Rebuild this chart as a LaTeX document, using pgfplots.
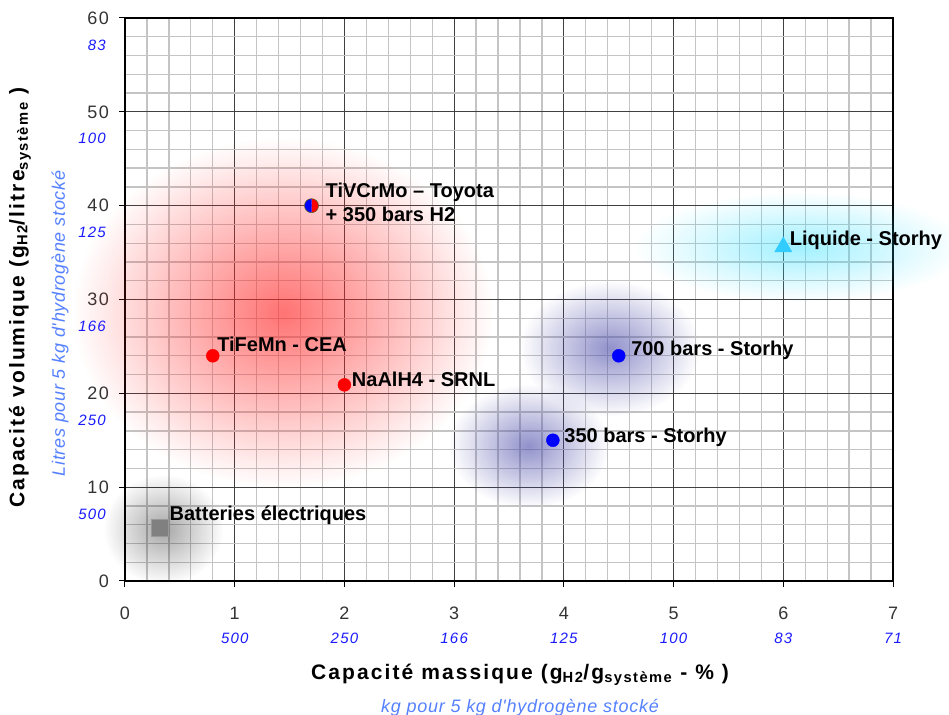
\documentclass[border=0pt]{standalone}
\usepackage{fontspec}
\setmainfont{Liberation Sans}
\newfontfamily\spaced[LetterSpace=10]{Liberation Sans}
\newfontfamily\tickfont[LetterSpace=8]{Liberation Sans}
\newfontfamily\subfont[LetterSpace=4]{Liberation Sans}
\usepackage{pgfplots}
\pgfplotsset{compat=1.18}
\usetikzlibrary{fadings}
\tikzfading[name=halo, inner color=transparent!0, outer color=transparent!100]

\definecolor{gridminor}{HTML}{C4C4C4}
\definecolor{gridmajor}{HTML}{404040}
\definecolor{ticklab}{HTML}{333333}
\definecolor{seclab}{HTML}{1A1AFF}
\definecolor{subtitle}{HTML}{5580FF}
\definecolor{halored}{HTML}{FF2828}
\definecolor{haloblue}{HTML}{4848A8}
\definecolor{halocyan}{HTML}{30E0FF}
\definecolor{liq}{HTML}{33CCFF}
\definecolor{bat}{HTML}{808080}

\tikzset{
  secx/.style={text=seclab, font=\tickfont\itshape\fontsize{15}{17}\selectfont, yshift=-57pt},
  secy/.style={text=seclab, anchor=east, inner sep=0pt,
    font=\tickfont\itshape\fontsize{15}{17}\selectfont, xshift=-19pt, yshift=-27pt},
}

\begin{document}
\begin{tikzpicture}
\begin{axis}[
  width=768pt, height=563pt, scale only axis,
  xmin=0, xmax=7, ymin=0, ymax=60,
  xtick={0,...,7}, ytick={0,10,...,60},
  minor x tick num=4, minor y tick num=4,
  grid=both,
  major grid style={gridmajor, line width=0.9pt},
  minor grid style={gridminor, line width=1.3pt},
  axis line style={black, line width=2.5pt},
  tick align=outside, xtick pos=bottom, ytick pos=left,
  major tick length=6pt, minor tick length=0pt,
  tick style={black, line width=1pt},
  /pgf/number format/assume math mode=true,
  ticklabel style={font=\tickfont\fontsize{18}{20}\selectfont, text=ticklab},
  xticklabel style={anchor=center, yshift=-26pt},
  yticklabel style={anchor=east, inner sep=0pt, xshift=-10pt},
  clip=false,
  every node near coord/.style={anchor=west, text=black,
    font=\bfseries\fontsize{20}{22}\selectfont},
]
% halos
\fill[halored, fill opacity=0.65, path fading=halo]
  (axis cs:1.44,28.6) ellipse [x radius=210pt, y radius=175pt];
\fill[haloblue, fill opacity=0.6, path fading=halo]
  (axis cs:4.42,24.8) ellipse [x radius=90pt, y radius=68pt];
\fill[haloblue, fill opacity=0.6, path fading=halo]
  (axis cs:3.68,14.4) ellipse [x radius=80pt, y radius=62pt];
\fill[halocyan, fill opacity=0.45, path fading=halo]
  (axis cs:6.15,35.6) ellipse [x radius=165pt, y radius=55pt];
\fill[black, fill opacity=0.35, path fading=halo]
  (axis cs:0.35,5.5) ellipse [x radius=60pt, y radius=55pt];

% data
\addplot[only marks, mark=square*, mark size=8.5pt, draw=bat!80!white, fill=bat,
  nodes near coords, point meta=explicit symbolic,
  every node near coord/.append style={xshift=6pt, yshift=12pt}]
  coordinates {(0.32,5.7) [Batteries électriques]};
\addplot[only marks, mark=*, mark size=6.5pt, red,
  nodes near coords, point meta=explicit symbolic,
  every node near coord/.append style={xshift=1pt, yshift=11pt}]
  coordinates {(0.8,24) [TiFeMn - CEA]};
\addplot[only marks, mark=*, mark size=6.5pt, red,
  nodes near coords, point meta=explicit symbolic,
  every node near coord/.append style={xshift=4pt, yshift=6pt}]
  coordinates {(2.0,20.9) [NaAlH4 - SRNL]};
\addplot[only marks, mark=*, mark size=6.5pt, blue,
  nodes near coords, point meta=explicit symbolic,
  every node near coord/.append style={xshift=9pt, yshift=5pt}]
  coordinates {(4.5,24) [700 bars - Storhy]};
\addplot[only marks, mark=*, mark size=6.5pt, blue,
  nodes near coords, point meta=explicit symbolic,
  every node near coord/.append style={xshift=8pt, yshift=3pt}]
  coordinates {(3.9,15) [350 bars - Storhy]};
\addplot[only marks, mark=triangle*, mark size=10pt, liq,
  nodes near coords, point meta=explicit symbolic,
  every node near coord/.append style={xshift=3pt, yshift=7pt}]
  coordinates {(6.0,35.6) [Liquide - Storhy]};
\addplot[only marks, mark=halfcircle*, mark size=7pt, mark color=blue,
  mark options={rotate=-90, fill=red, draw=olive!60!black, line width=0.6pt}]
  coordinates {(1.7,40)};
\node[anchor=west, align=left, font=\bfseries\fontsize{20}{24}\selectfont,
  inner sep=0pt] at ([xshift=14pt, yshift=3pt]axis cs:1.7,40)
  {TiVCrMo – Toyota\\+ 350 bars H2};

% secondary tick labels
\node[secx] at (axis cs:1,0) {500};
\node[secx] at (axis cs:2,0) {250};
\node[secx] at (axis cs:3,0) {166};
\node[secx] at (axis cs:4,0) {125};
\node[secx] at (axis cs:5,0) {100};
\node[secx] at (axis cs:6,0) {83};
\node[secx] at (axis cs:7,0) {71};
\node[secy] at (axis cs:0,60) {83};
\node[secy] at (axis cs:0,50) {100};
\node[secy] at (axis cs:0,40) {125};
\node[secy] at (axis cs:0,30) {166};
\node[secy] at (axis cs:0,20) {250};
\node[secy] at (axis cs:0,10) {500};

% titles
\node[font=\spaced\bfseries\fontsize{21}{24}\selectfont]
  at ([xshift=11pt, yshift=-94pt]rel axis cs:0.5,0)
  {Capacité massique (g\textsubscript{H2}/g\textsubscript{système} - \% )};
\node[text=subtitle, font=\subfont\itshape\fontsize{18}{20}\selectfont]
  at ([xshift=11pt, yshift=-127pt]rel axis cs:0.5,0)
  {kg pour 5 kg d'hydrogène stocké};
\node[rotate=90, font=\spaced\bfseries\fontsize{21}{24}\selectfont]
  at ([xshift=-105pt, yshift=2pt]rel axis cs:0,0.5)
  {Capacité volumique (g\textsubscript{H2}/litre\textsubscript{système} )};
\node[rotate=90, text=subtitle, font=\subfont\itshape\fontsize{18}{20}\selectfont]
  at ([xshift=-65pt, yshift=-24pt]rel axis cs:0,0.5)
  {Litres pour 5 kg d'hydrogène stocké};
\end{axis}
\pgfresetboundingbox
\path ([shift={(-125pt,-134pt)}]current axis.south west)
  rectangle ([shift={(56pt,18pt)}]current axis.north east);
\end{tikzpicture}
\end{document}
